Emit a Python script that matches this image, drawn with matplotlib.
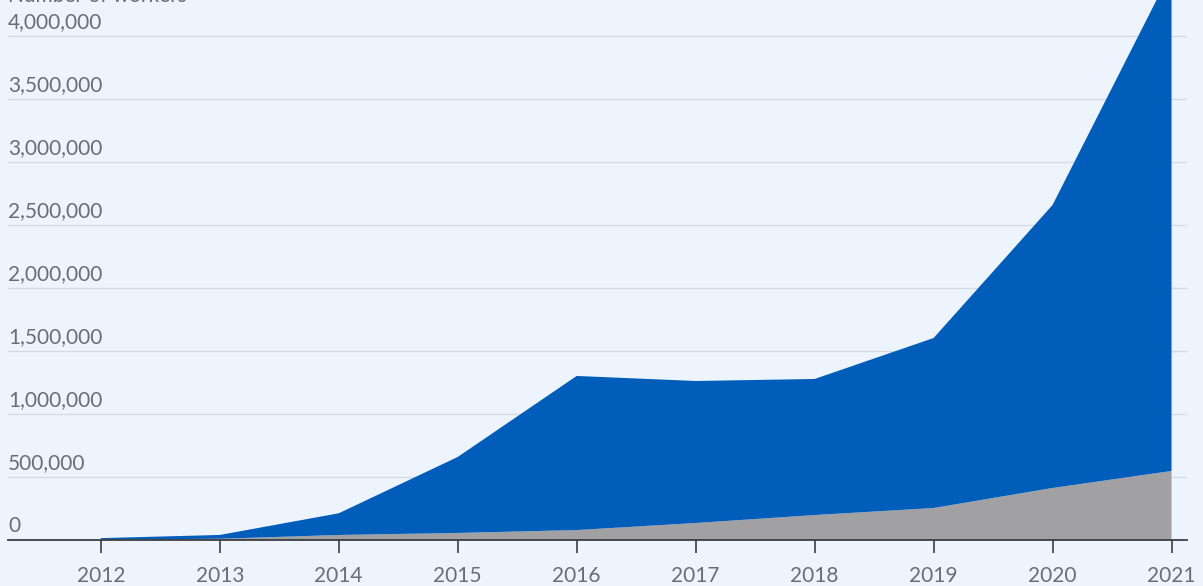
"""
Stacked area chart: number of workers, 2012-2021
"""

import matplotlib

matplotlib.use("Agg")
import matplotlib.pyplot as plt
import matplotlib.transforms as mtransforms
from matplotlib.ticker import FuncFormatter

# data
years = [2012, 2013, 2014, 2015, 2016, 2017, 2018, 2019, 2020, 2021]
total_workers = [15000, 40000, 212000, 659000, 1302000, 1262000, 1278000, 1603000, 2659000, 4520000]
grey_workers = [3000, 10000, 40000, 56000, 79000, 135000, 198000, 254000, 413000, 548000]
blue_workers = [t - g for t, g in zip(total_workers, grey_workers)]

y_ticks = [0, 500000, 1000000, 1500000, 2000000, 2500000, 3000000, 3500000, 4000000]
y_title = "Number of workers"

BG = "#eef4fd"
BLUE = "#005db9"
GREY = "#a1a1a4"
TEXT = "#6a6e74"

plt.rcParams["font.family"] = ["Lato", "DejaVu Sans"]

fig = plt.figure(figsize=(12.03, 5.86), dpi=100, facecolor=BG)
ax = fig.add_axes([8 / 1203, 46 / 586, 1179 / 1203, 540 / 586])
ax.set_facecolor(BG)

ax.stackplot(years, grey_workers, blue_workers, colors=[GREY, BLUE], linewidth=0, zorder=2)

ax.set_xlim(2011.22, 2021.13)
ax.set_ylim(0, 4000000 + 36 / 63 * 500000)

# grid and axis line
ax.set_yticks(y_ticks)
ax.yaxis.grid(True, color="#d6dbe1", linewidth=1)
ax.set_axisbelow(True)
ax.tick_params(axis="y", length=0, labelleft=False)
for side in ("top", "right", "left"):
    ax.spines[side].set_visible(False)
ax.spines["bottom"].set_color("#3a3d42")
ax.spines["bottom"].set_linewidth(1.3)
ax.spines["bottom"].set_zorder(3)

ax.set_xticks(years)
ax.tick_params(axis="x", direction="out", length=9, width=1.2, color="#3a3d42",
               labelsize=15, labelcolor=TEXT, pad=10)

# y labels sit above their grid lines, inside the plot
offset = mtransforms.ScaledTranslation(0, 8 / 100, fig.dpi_scale_trans)
trans = mtransforms.blended_transform_factory(ax.transAxes, ax.transData) + offset
fmt = FuncFormatter(lambda v, _: f"{int(v):,}")
for v in y_ticks:
    ax.text(0, v, fmt(v), transform=trans, ha="left", va="baseline",
            fontsize=15, color=TEXT, zorder=4)

fig.text(8 / 1203, 1 - 2 / 586, y_title, ha="left", va="baseline", fontsize=15, color=TEXT)

plt.savefig("out.png", dpi=100, facecolor=BG)
plt.close()
